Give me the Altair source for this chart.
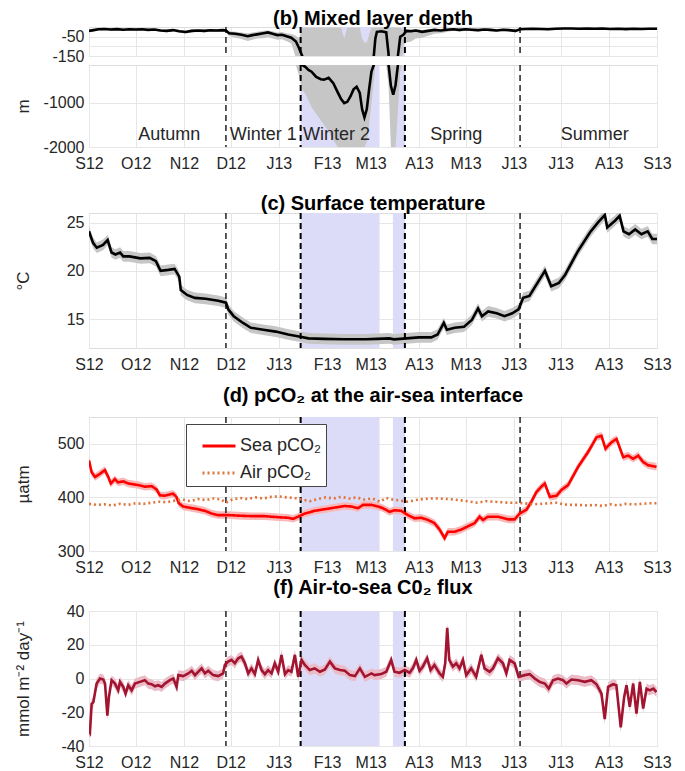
import altair as alt
import pandas as pd

FONT = "Liberation Sans"
START = pd.Timestamp("2012-09-01")

def to_dates(days):
    return [(START + pd.Timedelta(days=float(d))).strftime("%Y-%m-%dT%H:%M:%S") for d in days]

# ---------------- data ----------------
# Mixed layer depth (m): day offset from 1 Sep 2012, value, shallow bound, deep bound
mld_days = [0, 3, 6, 10, 14, 18, 22, 26, 30, 34, 38, 42, 46, 50, 54, 58, 62, 66, 70, 74, 78, 82, 86, 88,
            90, 94, 98, 102, 105, 108, 112, 115, 118, 121, 124, 127, 130, 133, 135, 137, 139, 141, 143, 146,
            149, 151, 154, 157, 160, 162, 164, 166, 168, 170, 172, 174, 175.5, 177, 178.5, 180, 181.5, 183,
            184, 185, 188, 191, 192.5, 194, 195.5, 197, 198.5, 200, 202, 204, 207, 210, 214, 218, 222, 226,
            230, 234, 238, 242, 246, 250, 254, 258, 262, 266, 270, 274, 277, 280, 285, 290, 295, 300, 305,
            310, 315, 320, 325, 330, 335, 340, 345, 350, 355, 360, 365]
mld_val = [-20, -16, -12, -10, -13, -11, -14, -12, -13, -12, -15, -13, -18, -20, -16, -22, -26, -20, -18, -20, -17, -18, -16, -18,
           -32, -35, -40, -48, -42, -38, -32, -28, -35, -42, -40, -48, -55, -75, -110, -150, -190, -260, -300, -420,
           -470, -480, -440, -560, -780, -920, -1010, -980, -860, -700, -640, -780, -1150, -1330, -1150, -700, -300, -150,
           -60, -25, -22, -28, -140, -620, -820, -600, -150, -50, -40, -20, -22, -18, -25, -20, -15, -18,
           -14, -12, -15, -12, -14, -16, -13, -15, -18, -14, -16, -20, -12, -10, -9, -10, -12, -9, -8,
           -8, -9, -8, -9, -8, -10, -9, -11, -9, -10, -9, -9]
mld_hi = [-14, -10, -7, -5, -8, -6, -8, -7, -8, -7, -9, -8, -12, -13, -10, -15, -18, -13, -12, -13, -11, -12, -10, -10,
          -22, -24, -28, -32, -28, -25, -20, -18, -22, -28, -26, -32, -36, -45, -60, -3, -3, -3, -3, -3,
          -3, -3, -3, -3, -3, -3, -60, -3, -3, -3, -3, -3, -60, -80, -80, -40, -3, -3,
          -3, -3, -3, -3, -3, -3, -3, -3, -3, -3, -15, -10, -12, -10, -15, -12, -9, -10,
          -8, -7, -9, -7, -8, -10, -8, -9, -11, -9, -10, -13, -7, -6, -5, -6, -7, -5, -4,
          -4, -5, -4, -5, -4, -6, -5, -7, -5, -6, -5, -5]
mld_lo = [-26, -22, -18, -16, -19, -17, -20, -18, -19, -18, -21, -20, -25, -27, -23, -30, -34, -28, -26, -28, -25, -26, -24, -26,
          -45, -55, -62, -72, -66, -60, -58, -52, -60, -66, -64, -74, -85, -160, -400, -700, -800, -950, -1100, -1250,
          -1400, -1500, -1650, -1850, -2000, -2000, -2000, -2000, -2000, -2000, -2000, -2000, -2000, -2000, -1900, -1500, -1000, -500,
          -160, -160, -160, -160, -600, -2000, -2000, -2000, -1200, -300, -90, -80, -75, -60, -55, -45, -35, -32,
          -26, -20, -24, -20, -22, -24, -20, -22, -26, -21, -23, -28, -18, -15, -14, -15, -17, -14, -12,
          -12, -13, -12, -13, -12, -14, -13, -15, -13, -14, -13, -13]

# Surface temperature (deg C)
temp_days = [0, 2.6, 5, 9, 12, 14.5, 17, 20, 22, 26, 33, 39, 43, 46, 51, 55, 58, 59, 63, 68, 75, 83, 88, 89.5,
             93, 99, 104, 112, 120, 128, 135, 141, 151, 164, 178, 185, 193, 196, 204, 212, 220, 224, 228, 230,
             235, 241, 246, 250, 252.5, 256.5, 262, 267, 272, 276, 279, 283, 288, 293, 297, 302, 306, 314, 322,
             327, 331.5, 333, 338, 341, 343.5, 347, 351, 355, 359, 362, 365]
temp_val = [24.1, 22.9, 22.4, 22.7, 23.2, 21.9, 21.7, 21.9, 21.5, 21.5, 21.3, 21.35, 21.0, 20.0, 20.1, 20.2, 19.4, 18.0, 17.5, 17.2, 17.1, 16.9, 16.7, 16.0,
            15.3, 14.6, 14.1, 13.9, 13.7, 13.4, 13.2, 13.0, 12.95, 12.9, 12.9, 12.95, 13.0, 12.9, 13.0, 13.1, 13.1, 13.4, 14.6, 13.9,
            14.1, 14.2, 14.9, 16.1, 15.3, 15.8, 15.6, 15.3, 15.6, 16.0, 17.2, 17.4, 18.7, 20.0, 18.4, 18.75, 19.6, 22.0, 24.0,
            25.0, 25.8, 24.5, 25.2, 25.7, 24.1, 23.8, 24.3, 23.8, 24.1, 23.3, 23.3]
TEMP_ERR = 0.55

# Sea and air pCO2 (uatm)
sea_days = [0, 1.7, 3.9, 7, 10.2, 12.4, 14, 16.6, 18.7, 22, 25.2, 31.6, 35.9, 40.2, 43.4, 45.5, 48.7, 54, 56.2, 57.7,
            60.5, 65.9, 70.1, 74.4, 78.7, 83, 89.4, 95.8, 104.4, 113, 121.6, 128, 131.2, 134.4, 138.7, 145.1, 151.5,
            158, 164.4, 168.6, 172.9, 176.1, 181.5, 185.8, 188.8, 193.1, 196.3, 200.6, 204.9, 209.2, 213.5, 217.8,
            222, 225.3, 228.5, 230.6, 234.9, 239.2, 243.5, 247.8, 251, 253.2, 256.4, 262.8, 269.3, 273.5, 276.8,
            281.1, 284.3, 287.5, 290.7, 292.9, 296.1, 300.4, 303.6, 307.9, 314.3, 320.8, 326.1, 329.3, 331.9, 335.8,
            339, 343.3, 346.5, 349.7, 352.9, 356.1, 359.3, 364.7]
sea_val = [469, 447, 438, 444, 451, 438, 426, 434, 428, 430, 426, 423, 420, 421, 415, 404, 403, 407, 401, 389,
           383, 380, 378, 375, 370, 367, 367, 366, 365, 365, 363, 362, 360, 364, 370, 375, 378,
           381, 384, 383, 380, 386, 386, 383, 380, 373, 376, 375, 367, 361, 362, 358,
           352, 340, 324, 336, 336, 340, 346, 352, 364, 358, 364, 364, 359, 359, 370,
           377, 392, 410, 420, 426, 401, 403, 414, 423, 457, 485, 512, 515, 491, 503,
           509, 475, 478, 472, 478, 466, 460, 457]
SEA_ERR = 7
air_days = [0, 5, 10, 15, 20, 25, 30, 35, 40, 45, 50, 55, 60, 65, 70, 75, 80, 85, 88, 92, 97, 102, 107, 112, 117,
            122, 127, 132, 137, 142, 147, 152, 157, 162, 167, 172, 177, 182, 187, 191, 195, 200, 205, 210, 215,
            220, 225, 230, 235, 240, 245, 250, 255, 260, 265, 270, 275, 280, 285, 290, 295, 300, 305, 310, 315,
            320, 325, 330, 335, 340, 345, 350, 355, 360, 365]
air_val = [388, 386, 387, 385, 388, 386, 389, 388, 390, 392, 391, 394, 396, 393, 397, 395, 398, 396, 390, 396, 399, 397, 400, 398, 401,
           402, 400, 399, 396, 393, 397, 400, 398, 401, 398, 400, 396, 398, 392, 399, 396, 394, 392, 395, 397,
           398, 398, 397, 396, 394, 392, 390, 393, 392, 391, 390, 390, 389, 387, 388, 389, 390, 387, 386, 386,
           385, 386, 384, 387, 385, 388, 387, 388, 389, 389]

# Air-to-sea CO2 flux (mmol m-2 day-1)
flux_days = [0, 0.6, 1.7, 2.8, 4.9, 7.1, 9.2, 10.3, 11.8, 12.8, 14.5, 16.7, 18.8, 19.9, 22, 23.5, 25.2, 27.4, 29.5,
             32.7, 35.9, 38.1, 40.2, 42.4, 44.5, 46.7, 48.8, 52, 54.2, 56.3, 57.4, 60.6, 63.8, 66, 68.1, 70.2, 72.4,
             74.5, 76.6, 79.8, 83, 86.2, 87.3, 89.4, 91.6, 93.7, 95.9, 98, 100.2, 102.3, 104.4, 106.6, 108.7, 110.9,
             113, 115.1, 117.3, 119.4, 121.6, 123.7, 125.9, 128, 130.1, 132.3, 134.4, 136.6, 138.7, 141.9, 145.1,
             148.4, 151.6, 154.8, 158, 161.3, 164.4, 167.7, 170.9, 174.1, 177.3, 181.5, 183.5, 187.8, 191, 194.2,
             196.3, 199.6, 202.8, 206, 208.1, 210.3, 212.4, 214.5, 217.3, 219.5, 222, 225.3, 227.4, 228.9, 230.2,
             231.5, 233.8, 236, 238.1, 240.3, 242.4, 245.6, 248.8, 252.1, 254.2, 257.4, 259.6, 262.8, 266, 268.2,
             270.3, 273.5, 276.1, 280, 283.2, 286.4, 289.6, 292.9, 295.4, 298.2, 301.4, 304.6, 306.8, 310, 314.3,
             318.6, 322.8, 326.1, 329.3, 331.4, 333.6, 336.8, 338.9, 341.7, 343.9, 345.4, 347.5, 349.7, 351.8, 354,
             356.1, 358.3, 360.4, 362.6, 364.7]
flux_val = [-31, -32, -15, -14, -3, 0, -0.6, -3, -22, -11, -1, -3, -7, -2, -5, -9, -4, -7, -3,
            -2, -1, -3, -3.4, -4.6, -4, -5, -3, -1, 0, -5, 2, 1.4, 3, 4.6, 2, 4, 6,
            3, 4.6, 2, 1.4, 3, 8, 10, 11, 9, 12, 13, 9, 3, 6, 2.6, 11, 5,
            2.6, 5, 3, 9, 4, 14, 2.6, 5, 4, 14, 1, 11, 8, 5, 6,
            4, 5.3, 10, 6, 5, 4.6, 2, 1.4, 6, 1, 3, 2, 2.6, 4, 11,
            4, 3.4, 5, 3.4, 6, 11, 4.6, 7, 12, 5, 8, 3, 1, 9, 30,
            11, 7, 9, 6, 11, 2, 6, 1, 14, 6, 4, 6, 12, 9, 3,
            11, 9, 1, 2, 2.6, 0, -2, -3, -6, -1, 0, -1, -3, -0.6, -1,
            -2, -1, -3.4, -8.9, -24, -5, -3.4, -4, -29, -10.9, -4, -16.8, -3, -20.8, -2,
            -17.8, -6, -7, -6, -8]
FLUX_ERR = 3

# Periods: deep-convection shading (start/end day) and season boundaries
shade_start = [136, 195.3]
shade_end = [186.7, 203]
bound_days = [88, 136, 203, 277]
bound_width = [1.3, 2.0, 2.0, 1.3]
season_names = ["Autumn", "Winter 1", "Winter 2", "Spring", "Summer"]
season_mid = [51.5, 112, 159, 236, 325]
month_ticks = [(2012, 9), (2012, 10), (2012, 11), (2012, 12), (2013, 1), (2013, 2), (2013, 3),
               (2013, 4), (2013, 5), (2013, 6), (2013, 7), (2013, 8), (2013, 9)]

# ---------------- frames ----------------
mld_df = pd.DataFrame({"date": to_dates(mld_days), "val": mld_val, "hi": mld_hi, "lo": mld_lo})
temp_df = pd.DataFrame({"date": to_dates(temp_days), "val": temp_val})
temp_df["lo"] = temp_df["val"] - TEMP_ERR
temp_df["hi"] = temp_df["val"] + TEMP_ERR
sea_df = pd.DataFrame({"date": to_dates(sea_days), "val": sea_val, "series": "Sea pCO₂"})
sea_df["lo"] = sea_df["val"] - SEA_ERR
sea_df["hi"] = sea_df["val"] + SEA_ERR
air_df = pd.DataFrame({"date": to_dates(air_days), "val": air_val, "series": "Air pCO₂"})
pco2_df = pd.concat([sea_df[["date", "val", "series"]], air_df], ignore_index=True)
flux_df = pd.DataFrame({"date": to_dates(flux_days), "val": flux_val})
flux_df["lo"] = flux_df["val"] - FLUX_ERR
flux_df["hi"] = flux_df["val"] + FLUX_ERR
shade_df = pd.DataFrame({"date": to_dates(shade_start), "date2": to_dates(shade_end)})
bound_df = pd.DataFrame({"date": to_dates(bound_days), "w": bound_width})
season_df = pd.DataFrame({"date": to_dates(season_mid), "name": season_names, "y": -1720})

# ---------------- styling ----------------
W = 568
BLUE = "#dcdcf8"
GREY = "#c6c6c6"
TXT = "#262626"
LBL = 16
LABEL_EXPR_X = ("['J','F','M','A','M','J','J','A','S','O','N','D'][month(datum.value)]"
                " + timeFormat(datum.value, '%y')")
month_vals = [alt.DateTime(year=y, month=m, date=1) for y, m in month_ticks]
x_scale = alt.Scale(domain=[alt.DateTime(year=2012, month=9, date=1),
                            alt.DateTime(year=2013, month=9, date=1)], nice=False)


def xenc(labels=True):
    return alt.X("date:T", scale=x_scale, title=None,
                 axis=alt.Axis(values=month_vals, labelExpr=LABEL_EXPR_X, labels=labels,
                               grid=True, gridColor="#e6e6e6", ticks=False, domain=False,
                               labelFlush=False, labelOverlap=False,
                               labelPadding=8, labelFontSize=LBL, labelFont=FONT,
                               labelColor=TXT))


def yaxis(values, title=None, label_expr="'' + datum.value"):
    kw = dict(values=values, labelExpr=label_expr, grid=True, gridColor="#e6e6e6",
              ticks=False, domain=False, labelPadding=5, labelFontSize=LBL, labelFont=FONT,
              labelColor=TXT, labelFlush=False, labelOverlap=False)
    if title is not None:
        kw.update(title=title, titleFont=FONT, titleFontSize=17, titleFontWeight="normal",
                  titleColor=TXT, titleX=-66, titleBaseline="middle")
    else:
        kw.update(title=None)
    return alt.Axis(**kw)


def ptitle(text, offset):
    return alt.TitleParams(text=text, fontSize=20, fontWeight="bold", font=FONT,
                           color="black", offset=offset, anchor="middle")


def common_layers(labels=True):
    shade = alt.Chart(shade_df).mark_rect(color=BLUE).encode(x=xenc(labels), x2="date2:T")
    rules = alt.Chart(bound_df).mark_rule(color="black", strokeDash=[6, 4]).encode(
        x=xenc(labels), strokeWidth=alt.StrokeWidth("w:Q", scale=None, legend=None))
    return shade, rules


def mld_panel(domain, values, height, title=None, labels=False, label_expr="'' + datum.value",
              with_text=False, ytitle=None):
    ysc = alt.Scale(domain=domain, nice=False, zero=False)
    shade, rules = common_layers(labels)
    band = alt.Chart(mld_df).mark_area(color=GREY, clip=True).encode(
        x=xenc(labels), y=alt.Y("lo:Q", scale=ysc, axis=yaxis(values, ytitle, label_expr)), y2="hi:Q")
    line = alt.Chart(mld_df).mark_line(color="black", strokeWidth=2.6, clip=True).encode(
        x=xenc(labels), y=alt.Y("val:Q", scale=ysc, axis=yaxis(values, ytitle, label_expr)))
    layers = [shade, band, rules, line]
    if with_text:
        layers.append(alt.Chart(season_df).mark_text(font=FONT, fontSize=18, color=TXT).encode(
            x=xenc(labels), y=alt.Y("y:Q", scale=ysc), text="name:N"))
    ch = alt.layer(*layers).properties(width=W, height=height)
    if title:
        ch = ch.properties(title=title)
    return ch


# ---- (b) MLD: upper and lower parts of the broken axis ----
mld_top = mld_panel([-150, 0], [-150, -100, -50], 29, title=ptitle("(b) Mixed layer depth", -3),
                    labels=False, label_expr="datum.value == -100 ? '' : '' + datum.value")
mld_bot = mld_panel([-2000, -150], [-2000, -1000], 82, labels=True, with_text=True, ytitle="m")

# ---- (c) temperature ----
tsc = alt.Scale(domain=[12, 26], nice=False, zero=False)
shade, rules = common_layers()
temp = alt.layer(
    shade,
    alt.Chart(temp_df).mark_area(color=GREY, clip=True).encode(
        x=xenc(), y=alt.Y("lo:Q", scale=tsc, axis=yaxis([15, 20, 25], "°C")), y2="hi:Q"),
    rules,
    alt.Chart(temp_df).mark_line(color="black", strokeWidth=2.6, clip=True).encode(
        x=xenc(), y=alt.Y("val:Q", scale=tsc, axis=yaxis([15, 20, 25], "°C"))),
).properties(width=W, height=135, title=ptitle("(c) Surface temperature", -2))

# ---- (d) pCO2 ----
psc = alt.Scale(domain=[300, 550], nice=False, zero=False)
series_names = ["Sea pCO₂", "Air pCO₂"]
legend = alt.Legend(title=None, orient="none", legendX=97, legendY=397,
                    symbolType="stroke", symbolSize=1089, symbolStrokeWidth=3,
                    symbolOffset=11, labelFont=FONT, labelFontSize=18,
                    labelColor=TXT, labelOffset=3,
                    labelExpr="datum.label + '\u00a0\u00a0\u00a0\u00a0'",
                    padding=4, rowPadding=0,
                    strokeColor="#444444", fillColor="white")
shade, rules = common_layers()
pco2 = alt.layer(
    shade,
    alt.Chart(sea_df).mark_area(color="#f9b8b8", clip=True).encode(
        x=xenc(), y=alt.Y("lo:Q", scale=psc, axis=yaxis([300, 400, 500], "µatm")), y2="hi:Q"),
    rules,
    alt.Chart(pco2_df).mark_line(strokeWidth=2.6, clip=True).encode(
        x=xenc(), y=alt.Y("val:Q", scale=psc, axis=yaxis([300, 400, 500], "µatm")),
        color=alt.Color("series:N", scale=alt.Scale(domain=series_names,
                                                    range=["#ff0000", "#e0743a"]), legend=legend),
        strokeDash=alt.StrokeDash("series:N", scale=alt.Scale(domain=series_names,
                                                              range=[[1, 0], [2, 3]]), legend=legend),
    ),
).properties(width=W, height=134, title=ptitle("(d) pCO₂ at the air-sea interface", 10))

# ---- (f) flux ----
fsc = alt.Scale(domain=[-40, 40], nice=False, zero=False)
shade, rules = common_layers()
flux = alt.layer(
    shade,
    alt.Chart(flux_df).mark_area(color="#ebbcc7", clip=True).encode(
        x=xenc(), y=alt.Y("lo:Q", scale=fsc, axis=yaxis([-40, -20, 0, 20, 40], "mmol m⁻² day⁻¹")),
        y2="hi:Q"),
    rules,
    alt.Chart(flux_df).mark_line(color="#a2142f", strokeWidth=2.6, clip=True).encode(
        x=xenc(), y=alt.Y("val:Q", scale=fsc, axis=yaxis([-40, -20, 0, 20, 40], "mmol m⁻² day⁻¹"))),
).properties(width=W, height=135, title=ptitle("(f) Air-to-sea C0₂ flux", 5))

chart = alt.vconcat(
    alt.vconcat(alt.vconcat(mld_top, mld_bot, spacing=-4), temp, spacing=21),
    alt.vconcat(pco2, flux, spacing=1),
    spacing=12,
).properties(
    padding={"left": 5, "top": 0, "right": 5, "bottom": 0}
).configure_view(stroke="#6e6e6e", strokeWidth=1).configure(background="white")

chart.save("out.html", embed_options={"renderer": "svg", "actions": False})
